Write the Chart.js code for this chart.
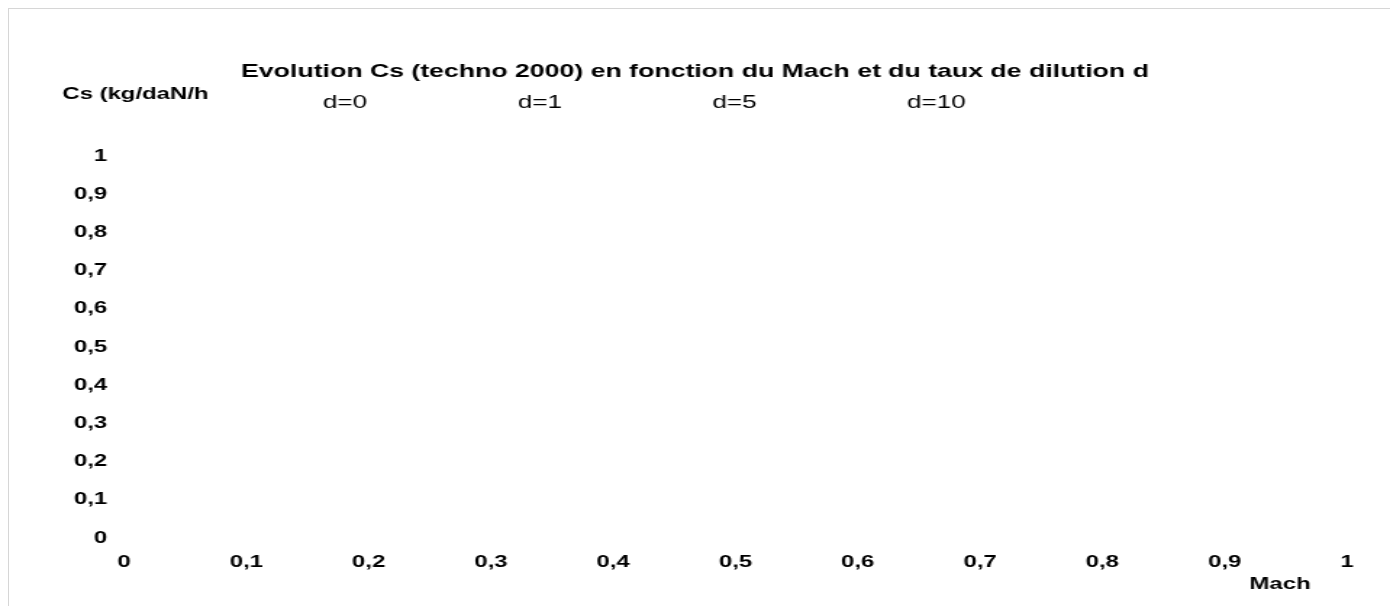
<!DOCTYPE html>
<html>
<head>
<meta charset="utf-8">
<script src="https://cdn.jsdelivr.net/npm/chart.js@4.4.1/dist/chart.umd.min.js"></script>
<style>
  html, body { margin: 0; padding: 0; background: #fff; overflow: hidden; }
  #frame { position: absolute; left: 8px; top: 8px; right: 0; bottom: 0;
           border-left: 1px solid #d6d6d6; border-top: 1px solid #d6d6d6; pointer-events: none; }
  #chart { position: absolute; left: 0; top: 0; }
</style>
</head>
<body>
<!-- the original is stretched horizontally, so the canvas is drawn narrower and widened by css -->
<canvas id="chart" width="959" height="606" style="width:1390px;height:606px"></canvas>
<div id="frame"></div>
<script>
const chartTitle = "Evolution Cs (techno 2000) en fonction du Mach et du taux de dilution d";
const xAxisTitle = "Mach";
const yAxisTitle = "Cs (kg/daN/h";

// series in the legend
const seriesNames = ["d=0", "d=1", "d=5", "d=10"];
// no curve is drawn on the picture: the series are empty
const seriesD0 = [];
const seriesD1 = [];
const seriesD5 = [];
const seriesD10 = [];
const seriesPoints = [seriesD0, seriesD1, seriesD5, seriesD10];

// axes
const xRange = [0, 1];
const xStep = 0.1;
const yRange = [0, 1];
const yStep = 0.1;

const frenchNumber = (v) => String(v).replace(".", ",");

Chart.defaults.font.family = '"Liberation Sans", Arial, sans-serif';
Chart.defaults.color = "#000";

//axis titles drawn by hand + legend moved to the right
const axisTitles = {
    id: "axisTitles",
    afterLayout(chart) {
        chart.legend.left += 119;
        chart.legend.right += 119;
    },
    afterDraw(chart) {
        const ctx = chart.ctx;
        const x = chart.scales.x;
        ctx.save();
        ctx.font = 'bold 16.5px "Liberation Sans", Arial, sans-serif';
        ctx.fillStyle = "#000";
        ctx.textBaseline = "middle";
        ctx.textAlign = "left";
        ctx.fillText(yAxisTitle, 43, 94);
        ctx.textAlign = "right";
        ctx.fillText(xAxisTitle, x.right - 25, 584);
        ctx.restore();
    }
};

const tickFont = { size: 16.5, weight: "bold" };

let myChart = new Chart(document.getElementById("chart"), {
    type: "scatter",
    plugins: [axisTitles],
    data: {
        datasets: seriesNames.map((name, i) => ({
            label: name,
            data: seriesPoints[i],
            backgroundColor: "rgba(0,0,0,0)",
            borderColor: "rgba(0,0,0,0)",
            borderWidth: 0
        }))
    },
    options: {
        responsive: false,
        animation: false,
        layout: { padding: { top: 0, left: 0, right: 0, bottom: 19 } },
        plugins: {
            title: {
                display: true,
                text: chartTitle,
                color: "#000",
                font: { size: 18.4, weight: "bold" },
                padding: { top: 61, bottom: 0 }
            },
            legend: {
                display: true,
                position: "top",
                align: "start",
                labels: {
                    color: "#000",
                    font: { size: 18 },
                    boxWidth: 83.6,
                    boxHeight: 0,
                    padding: 11.2
                }
            },
            // empty spacer between the legend and the plot
            subtitle: {
                display: true,
                text: "",
                weight: 500,
                font: { size: 1, lineHeight: 1 },
                padding: { top: 0, bottom: 32.8 }
            },
            tooltip: { enabled: false }
        },
        scales: {
            x: {
                type: "linear",
                min: xRange[0],
                max: xRange[1],
                grid: { display: false, drawTicks: false },
                border: { display: false },
                ticks: { stepSize: xStep, padding: 14.6, color: "#000", font: tickFont, callback: frenchNumber },
                afterFit(s) { s.paddingRight = 29.7; }
            },
            y: {
                type: "linear",
                min: yRange[0],
                max: yRange[1],
                grid: { display: false, drawTicks: false },
                border: { display: false },
                ticks: { stepSize: yStep, padding: 11.6, color: "#000", font: tickFont, callback: frenchNumber },
                afterFit(s) { s.width = 85.6; }
            }
        }
    }
});
</script>
</body>
</html>
